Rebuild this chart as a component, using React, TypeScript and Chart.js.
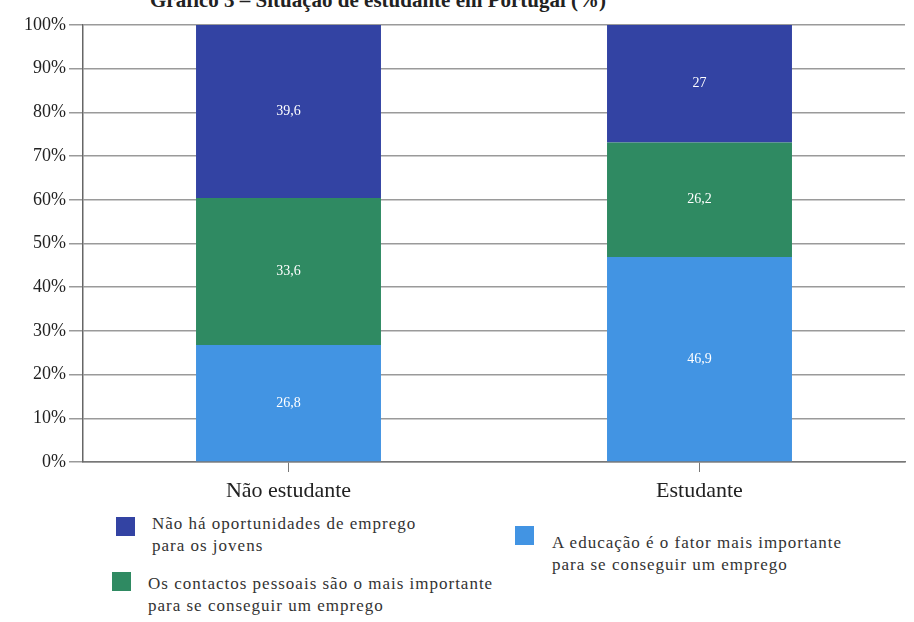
import React, { useEffect, useRef } from "react";
import { Chart, registerables } from "chart.js";

Chart.register(...registerables);

const categories = ["Não estudante", "Estudante"];
const seriesLabels = [
  "A educação é o fator mais importante para se conseguir um emprego",
  "Os contactos pessoais são o mais importante para se conseguir um emprego",
  "Não há oportunidades de emprego para os jovens",
];
const educacao = [26.8, 46.9];
const contactos = [33.6, 26.2];
const semOportunidades = [39.6, 27];
const yTicks = [0, 10, 20, 30, 40, 50, 60, 70, 80, 90, 100];
const colors = ["#4294e3", "#2f8a62", "#3343a3"];

const valueLabels = {
  id: "valueLabels",
  afterDatasetsDraw(chart: any) {
    const ctx = chart.ctx;
    ctx.save();
    ctx.fillStyle = "#ffffff";
    ctx.font = "14px 'Liberation Serif', serif";
    ctx.textAlign = "center";
    ctx.textBaseline = "middle";
    chart.data.datasets.forEach((ds: any, i: number) => {
      const meta = chart.getDatasetMeta(i);
      meta.data.forEach((bar: any, j: number) => {
        const v = ds.data[j];
        const y = (bar.y + bar.base) / 2;
        ctx.fillText(String(v).replace(".", ","), bar.x, y);
      });
    });
    ctx.restore();
  },
};

export default function App() {
  const ref = useRef<HTMLCanvasElement>(null);
  useEffect(() => {
    document.body.style.margin = "0";
    const chart = new Chart(ref.current!, {
      type: "bar",
      data: {
        labels: categories,
        datasets: [
          { label: seriesLabels[0], data: educacao, backgroundColor: colors[0] },
          { label: seriesLabels[1], data: contactos, backgroundColor: colors[1] },
          { label: seriesLabels[2], data: semOportunidades, backgroundColor: colors[2] },
        ],
      },
      options: {
        animation: false,
        responsive: false,
        maintainAspectRatio: false,
        layout: { padding: { top: 37, right: 9, bottom: 6, left: 0 } },
        datasets: { bar: { categoryPercentage: 1, barPercentage: 0.45 } },
        plugins: { legend: { display: false }, tooltip: { enabled: false } },
        scales: {
          x: {
            stacked: true,
            afterFit: (s: any) => { s.height = 40; },
            grid: { offset: false, drawOnChartArea: false, tickLength: 10, color: "#777" },
            border: { display: true, color: "#777", width: 1.5 },
            ticks: { color: "#222", padding: 6, font: { family: "'Liberation Serif', serif", size: 22 } },
          },
          y: {
            stacked: true,
            min: 0,
            max: 100,
            afterFit: (s: any) => { s.width = 83; },
            afterBuildTicks: (s: any) => { s.ticks = yTicks.map((v) => ({ value: v })); },
            grid: { color: "#9a9a9a", lineWidth: 1.5, tickLength: 14 },
            border: { display: true, color: "#666", width: 1.5 },
            ticks: {
              color: "#222",
              padding: 3,
              font: { family: "'Liberation Serif', serif", size: 18 },
              callback: (v: any) => v + "%",
            },
          },
        },
      },
      plugins: [valueLabels],
    });
    return () => chart.destroy();
  }, []);

  const legendText: React.CSSProperties = {
    position: "absolute",
    fontFamily: "'Liberation Serif', serif",
    fontSize: 17,
    letterSpacing: "1px",
    lineHeight: "22px",
    color: "#333",
    whiteSpace: "nowrap",
  };
  const sq = (c: string, left: number, top: number): React.CSSProperties => ({
    position: "absolute", left, top, width: 19, height: 19, background: c,
  });

  return (
    <div style={{ position: "relative", width: 914, height: 622, overflow: "hidden", background: "#fff" }}>
      <div style={{ position: "absolute", top: -12, left: 150, fontFamily: "'Liberation Serif', serif", fontWeight: "bold", fontSize: 21, color: "#222", whiteSpace: "nowrap" }}>
        Gráfico 3 – Situação de estudante em Portugal (%)
      </div>
      <canvas ref={ref} width={914} height={520} style={{ position: "absolute", top: -12, left: 0, width: 914, height: 520 }} />
      <div style={sq(colors[2], 116, 517)} />
      <div style={{ ...legendText, left: 152, top: 513 }}>Não há oportunidades de emprego<br />para os jovens</div>
      <div style={sq(colors[1], 112, 572)} />
      <div style={{ ...legendText, left: 148, top: 573 }}>Os contactos pessoais são o mais importante<br />para se conseguir um emprego</div>
      <div style={sq(colors[0], 515, 526)} />
      <div style={{ ...legendText, left: 552, top: 532 }}>A educação é o fator mais importante<br />para se conseguir um emprego</div>
    </div>
  );
}
